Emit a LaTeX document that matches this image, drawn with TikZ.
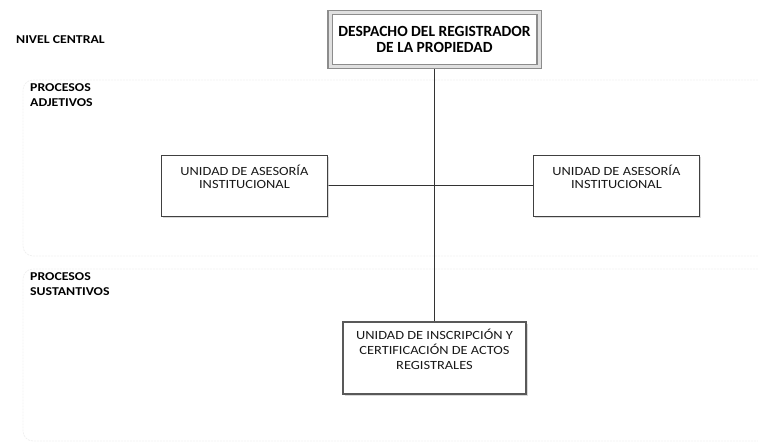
\documentclass[tikz,border=0pt]{standalone}
\usepackage{fontspec}
\newfontfamily\dfont[FakeStretch=1.15]{Carlito}
\newfontfamily\tfont{Carlito}
\usetikzlibrary{backgrounds,shadows}
\tikzset{
  lane/.style={draw=black!6, line width=0.8pt, dash pattern=on 2pt off 1pt, rounded corners=10pt},
  unitbox/.style={draw=black!75, line width=0.9pt, fill=white, inner sep=0pt,
    drop shadow={shadow xshift=1.5pt, shadow yshift=-1.5pt, fill=black!25, opacity=0.6}},
  topbox/.style={draw=black!45, line width=1.2pt, double=black!12, double distance=3pt,
    fill=white, inner sep=0pt, align=center, font=\tfont\bfseries\fontsize{15.5pt}{15.5pt}\selectfont,
    drop shadow={shadow xshift=1.5pt, shadow yshift=-1.5pt, fill=black!25, opacity=0.6}},
  unittext/.style={inner sep=0pt, align=center, text=black!90, font=\dfont\fontsize{12.5pt}{13.5pt}\selectfont},
  lanelabel/.style={inner sep=0pt, align=left, font=\dfont\bfseries\fontsize{12pt}{15pt}\selectfont},
  link/.style={draw=black!80, line width=1pt}
}
\begin{document}
\begin{tikzpicture}[x=1pt,y=1pt]
\useasboundingbox (0,0) rectangle (758,-442);
% top box
\node[topbox, minimum width=209pt, minimum height=54pt] (top) at (434.5,-39.5)
  {DESPACHO DEL REGISTRADOR\\DE LA PROPIEDAD};
% unit boxes
\node[unitbox, anchor=north west, minimum width=166pt, minimum height=61pt] (u1) at (161,-155) {};
\node[unitbox, anchor=north west, minimum width=166pt, minimum height=61pt] (u2) at (533,-155) {};
\node[unitbox, minimum width=183pt, minimum height=72pt, draw=black!65, line width=1.1pt] (u3) at (434.5,-358) {};
\node[unittext, anchor=north] (u1t) at ([yshift=-9.5pt]u1.north) {UNIDAD DE ASESORÍA\\INSTITUCIONAL};
\node[unittext, anchor=north] (u2t) at ([yshift=-9.5pt]u2.north) {UNIDAD DE ASESORÍA\\INSTITUCIONAL};
\node[unittext, anchor=north, font=\dfont\fontsize{12.5pt}{15pt}\selectfont] (u3t) at ([yshift=-7pt]u3.north) {UNIDAD DE INSCRIPCIÓN Y\\CERTIFICACIÓN DE ACTOS\\REGISTRALES};
% labels
\node[lanelabel, anchor=base west] (nivel) at (16,-43) {NIVEL CENTRAL};
\node[lanelabel, anchor=north west] (adj) at (30,-83) {PROCESOS\\ADJETIVOS};
\node[lanelabel, anchor=north west] (sus) at (30,-272) {PROCESOS\\SUSTANTIVOS};
\begin{scope}[on background layer]
  \draw[lane] (770,-80) -- (23,-80) -- (23,-256) -- (770,-256);
  \draw[lane] (770,-269) -- (23,-269) -- (23,-441) -- (770,-441);
  \draw[link] (top.south) -- (u3.north);
  \draw[link] (u1.east) -- (u2.west);
\end{scope}
\end{tikzpicture}
\end{document}
